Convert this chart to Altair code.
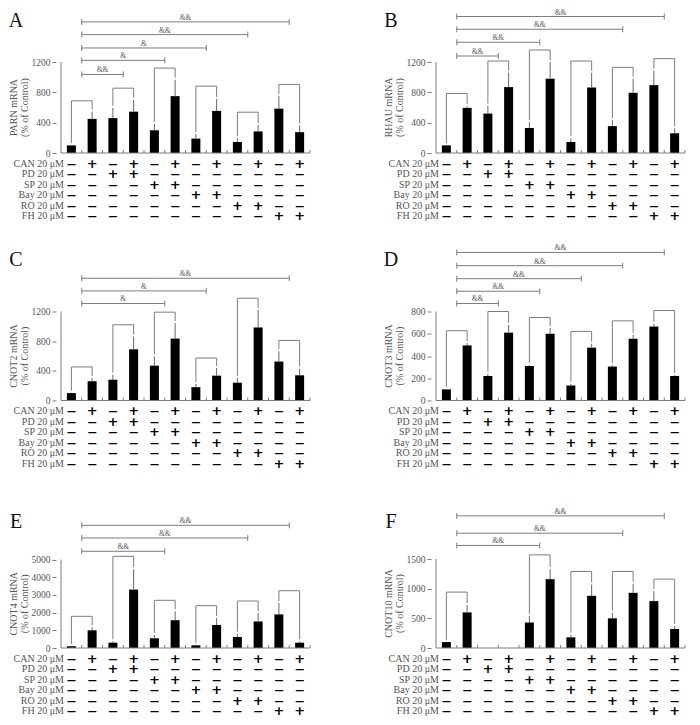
import altair as alt
import pandas as pd

COLS = list(range(12))
ROWS = ["CAN 20 μM", "PD 20 μM", "SP 20 μM", "Bay 20 μM", "RO 20 μM", "FH 20 μM"]
CAN = ["-", "+", "-", "+", "-", "+", "-", "+", "-", "+", "-", "+"]
PDT = ["-", "-", "+", "+", "-", "-", "-", "-", "-", "-", "-", "-"]
SPT = ["-", "-", "-", "-", "+", "+", "-", "-", "-", "-", "-", "-"]
BAY = ["-", "-", "-", "-", "-", "-", "+", "+", "-", "-", "-", "-"]
ROT = ["-", "-", "-", "-", "-", "-", "-", "-", "+", "+", "-", "-"]
FHT = ["-", "-", "-", "-", "-", "-", "-", "-", "-", "-", "+", "+"]

# Panel A - PARN
A_VALS = [100, 450, 460, 545, 300, 750, 190, 555, 145, 285, 585, 275]
A_ERRS = [105, 547, 595, 701, 384, 966, 251, 714, 194, 370, 750, 362]
A_PAIRS = [688, 855, 1120, 882, 538, 904]
A_SIG = [1036, 1222, 1385, 1561, 1729]
A_SIG_END = [2.5, 4.5, 6.5, 8.5, 10.5]
A_SIG_LAB = ["&&", "&", "&", "&&", "&&"]
A_TICKS = [0, 400, 800, 1200]

# Panel B - RHAU
B_VALS = [100, 595, 520, 869, 330, 980, 145, 864, 355, 794, 895, 260]
B_ERRS = [105, 617, 626, 1058, 406, 1200, 194, 1058, 437, 979, 1085, 326]
B_PAIRS = [785, 1213, 1358, 1213, 1129, 1244]
B_SIG = [1279, 1460, 1632, 1800]
B_SIG_END = [2.5, 4.5, 8.5, 10.5]
B_SIG_LAB = ["&&", "&&", "&&", "&&"]
B_TICKS = [0, 400, 800, 1200]

# Panel C - CNOT2
C_VALS = [100, 260, 280, 690, 470, 835, 180, 335, 240, 985, 525, 340]
C_ERRS = [105, 304, 349, 864, 596, 1043, 224, 439, 304, 1222, 663, 430]
C_PAIRS = [452, 1021, 1191, 573, 1379, 810]
C_SIG = [1308, 1478, 1648]
C_SIG_END = [4.5, 6.5, 10.5]
C_SIG_LAB = ["&", "&", "&&"]
C_TICKS = [0, 400, 800, 1200]

# Panel D - CNOT3
D_VALS = [100, 495, 220, 610, 310, 600, 135, 475, 305, 555, 665, 220]
D_ERRS = [103, 515, 240, 680, 320, 650, 150, 510, 320, 590, 690, 230]
D_PAIRS = [627, 800, 746, 621, 716, 809]
D_SIG = [872, 982, 1095, 1212, 1331]
D_SIG_END = [2.5, 4.5, 6.5, 8.5, 10.5]
D_SIG_LAB = ["&&", "&&", "&&", "&&", "&&"]
D_TICKS = [0, 200, 400, 600, 800]

# Panel E - CNOT4
E_VALS = [100, 1000, 300, 3300, 550, 1570, 150, 1300, 620, 1500, 1900, 300]
E_ERRS = [110, 1170, 377, 4450, 736, 2075, 189, 1698, 811, 1981, 2547, 377]
E_PAIRS = [1790, 5180, 2695, 2390, 2655, 3237]
E_SIG = [5463, 6215, 6932]
E_SIG_END = [4.5, 8.5, 10.5]
E_SIG_LAB = ["&&", "&&", "&&"]
E_TICKS = [0, 1000, 2000, 3000, 4000, 5000]

# Panel F - CNOT10
F_VALS = [100, 600, None, None, 430, 1160, 180, 880, 500, 930, 790, 320]
F_ERRS = [105, 723, None, None, 545, 1330, 222, 1070, 595, 1080, 960, 372]
F_PAIRS = [942, None, 1570, 1290, 1290, 1161]
F_SIG = [1728, 1935, 2227]
F_SIG_END = [4.5, 8.5, 10.5]
F_SIG_LAB = ["&&", "&&", "&&"]
F_TICKS = [0, 500, 1000, 1500]

SERIF = "Liberation Serif"
GREY = "#7d7d7d"
TXT = "#555555"
W = 259          # plot width
H = 142          # distance from panel top to the zero line
ROW_TOP = 5.5    # gap between zero line and first table row band
ROW_STEP = 10.5  # table row step
ROW_H = ROW_STEP * len(ROWS)
HC = H + ROW_TOP + ROW_H


def panel(letter, letter_y, gene, vals, errs, pairs, sig, sig_end, sig_lab, ticks, tick_px):
    tmax = ticks[-1]
    upp = tmax / tick_px
    dmax = H * upp
    dmin = -(ROW_TOP + ROW_H) * upp
    xs = alt.Scale(domain=[-0.5, 11.5], nice=False, zero=False)
    ys = alt.Scale(domain=[dmin, dmax], nice=False, zero=False)
    yax = alt.Axis(
        values=ticks, format="d", title=None, domain=False, grid=False,
        tickSize=4, tickColor=GREY, labelFont=SERIF, labelFontSize=9.5,
        labelColor=TXT, labelPadding=2)
    X = lambda f: alt.X(f, type="quantitative", scale=xs, axis=None)
    Y = lambda f: alt.Y(f, type="quantitative", scale=ys, axis=yax)

    bdf = pd.DataFrame({"x": COLS, "v": vals, "e": errs})
    bars = alt.Chart(bdf).mark_bar(color="black", size=9, orient="vertical").encode(
        x=X("x"), y=Y("v"), y2=alt.datum(0))
    errs_l = alt.Chart(bdf).mark_rule(color="#666", strokeWidth=1).encode(
        x=X("x"), y=Y("v"), y2="e:Q")

    g = 2 * upp
    prow = []
    for k, top in enumerate(pairs):
        if top is None:
            continue
        i = 2 * k
        prow += [
            {"p": k, "o": 0, "x": i, "y": errs[i] + g},
            {"p": k, "o": 1, "x": i, "y": top},
            {"p": k, "o": 2, "x": i + 1, "y": top},
            {"p": k, "o": 3, "x": i + 1, "y": errs[i + 1] + g},
        ]
    pairs_l = alt.Chart(pd.DataFrame(prow)).mark_line(color=GREY, strokeWidth=1).encode(
        x=X("x"), y=Y("y"), detail="p:N", order="o:Q")

    sdf = pd.DataFrame({"x1": [0.5] * len(sig), "x2": sig_end, "y": sig, "lab": sig_lab})
    sdf["xm"] = (sdf["x1"] + sdf["x2"]) / 2
    sig_r = alt.Chart(sdf).mark_rule(color=GREY, strokeWidth=1).encode(
        x=X("x1"), x2="x2:Q", y=Y("y"))
    cap_df = pd.DataFrame({"x": [0.5] * len(sig) + list(sig_end), "y": sig + sig})
    cap_df["y1"] = cap_df["y"] - 3 * upp
    cap_df["y2"] = cap_df["y"] + 3 * upp
    sig_c = alt.Chart(cap_df).mark_rule(color=GREY, strokeWidth=1).encode(
        x=X("x"), y=Y("y1"), y2="y2:Q")
    sig_t = alt.Chart(sdf).mark_text(font=SERIF, fontSize=7.5, color=TXT, dy=-4).encode(
        x=X("xm"), y=Y("y"), text="lab:N")

    base_df = pd.DataFrame({"x1": [-0.5], "x2": [11.5], "y": [0.0], "t": [float(tmax)]})
    base = alt.Chart(base_df).mark_rule(color=GREY, strokeWidth=1).encode(
        x=X("x1"), x2="x2:Q", y=Y("y"))
    yline = alt.Chart(base_df).mark_rule(color=GREY, strokeWidth=1).encode(
        x=X("x1"), y=Y("y"), y2="t:Q")
    tk_df = pd.DataFrame({"x": [c + 0.5 for c in COLS]})
    tk_df["y"] = 0.0
    tk_df["y2"] = 3 * upp
    xt = alt.Chart(tk_df).mark_rule(color=GREY, strokeWidth=1).encode(
        x=X("x"), y=Y("y"), y2="y2:Q")

    let = alt.Chart(pd.DataFrame({"t": [letter]})).mark_text(
        font=SERIF, fontSize=20, color="#111", align="center", baseline="middle").encode(
        x=alt.value(-40), y=alt.value(letter_y), text="t:N")

    # y-axis title, two lines, centred on the tick range
    ttl = alt.Chart(pd.DataFrame({"t": [gene, "(% of Control)"], "dx": [-42, -31]})).mark_text(
        font=SERIF, fontSize=10, color=TXT, angle=270, align="center", baseline="middle").encode(
        x=alt.X("dx:Q", scale=None), y=alt.value(H - tick_px / 2), text="t:N")

    # treatment table (rows placed below the zero line)
    rows = []
    for k, (name, arr) in enumerate(zip(ROWS, [CAN, PDT, SPT, BAY, ROT, FHT])):
        ty = -(ROW_TOP + (k + 0.5) * ROW_STEP) * upp
        for c, s in zip(COLS, arr):
            rows.append({"row": name, "x": c, "s": s, "ty": ty})
    tdf = pd.DataFrame(rows)
    plus = alt.Chart(tdf).transform_filter("datum.s == '+'").mark_text(
        text="+", font="DejaVu Sans", fontSize=13, fontWeight="bold", color="black",
        baseline="middle").encode(x=X("x"), y=Y("ty"))
    minus = alt.Chart(tdf).transform_filter("datum.s == '-'").mark_text(
        text="—", font="DejaVu Sans", fontSize=9, fontWeight="bold", color="black",
        baseline="middle").encode(x=X("x"), y=Y("ty"))
    ldf = tdf[tdf["x"] == 0].copy()
    ldf["lx"] = -0.36
    labs = alt.Chart(ldf).mark_text(font=SERIF, fontSize=10, color=TXT, align="right",
                                    baseline="middle").encode(x=X("lx"), y=Y("ty"), text="row:N")

    return alt.layer(bars, errs_l, pairs_l, sig_r, sig_c, sig_t, base, yline, xt,
                     plus, minus, labs, let, ttl).properties(width=W, height=HC)


pA = panel("A", 9.5, "PARN mRNA", A_VALS, A_ERRS, A_PAIRS, A_SIG, A_SIG_END, A_SIG_LAB, A_TICKS, 91)
pB = panel("B", 9.5, "RHAU mRNA", B_VALS, B_ERRS, B_PAIRS, B_SIG, B_SIG_END, B_SIG_LAB, B_TICKS, 91)
pC = panel("C", 1, "CNOT2 mRNA", C_VALS, C_ERRS, C_PAIRS, C_SIG, C_SIG_END, C_SIG_LAB, C_TICKS, 89)
pD = panel("D", 1, "CNOT3 mRNA", D_VALS, D_ERRS, D_PAIRS, D_SIG, D_SIG_END, D_SIG_LAB, D_TICKS, 89)
pE = panel("E", 16, "CNOT4 mRNA", E_VALS, E_ERRS, E_PAIRS, E_SIG, E_SIG_END, E_SIG_LAB, E_TICKS, 88.5)
pF = panel("F", 16, "CNOT10 mRNA", F_VALS, F_ERRS, F_PAIRS, F_SIG, F_SIG_END, F_SIG_LAB, F_TICKS, 89)

chart = alt.concat(pA, pB, pC, pD, pE, pF, columns=2, spacing={"row": 36.5, "column": 116},
                   bounds="flush").resolve_scale(x="independent", y="independent").properties(
    padding=0).configure_view(stroke=None)

chart.save("out.html", embed_options={"renderer": "svg", "actions": False})
